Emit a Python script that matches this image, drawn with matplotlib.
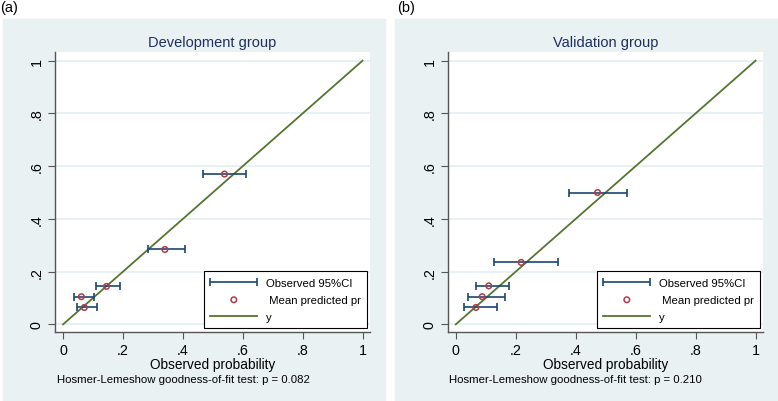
import numpy as np
import matplotlib
matplotlib.use("Agg")
import matplotlib.pyplot as plt
from matplotlib.patches import Rectangle
from matplotlib.container import ErrorbarContainer
from matplotlib.legend_handler import HandlerErrorbar

plt.rcParams["font.family"] = ["Liberation Sans", "DejaVu Sans"]

# observed probability (x), mean predicted probability (y), observed 95% CI
dev_obs = [0.539, 0.340, 0.145, 0.061, 0.071]
dev_pred = [0.570, 0.284, 0.144, 0.105, 0.064]
dev_lo = [0.466, 0.284, 0.110, 0.035, 0.045]
dev_hi = [0.612, 0.406, 0.191, 0.102, 0.113]

val_obs = [0.473, 0.218, 0.110, 0.088, 0.067]
val_pred = [0.500, 0.235, 0.146, 0.105, 0.064]
val_lo = [0.378, 0.129, 0.066, 0.042, 0.029]
val_hi = [0.572, 0.342, 0.177, 0.164, 0.138]

ticks = [0, 0.2, 0.4, 0.6, 0.8, 1]
tick_labels = ["0", ".2", ".4", ".6", ".8", "1"]

panels = [
    ("(a)", "Development group", dev_obs, dev_pred, dev_lo, dev_hi, "0.082"),
    ("(b)", "Validation group", val_obs, val_pred, val_lo, val_hi, "0.210"),
]

BG = "#e9f1f3"
NAVY = "#1a476f"
MAROON = "#b03a48"
GREEN = "#55752f"
TITLE = "#1f2f5e"

W, H = 778, 402
fig = plt.figure(figsize=(W / 100, H / 100), dpi=100)

bg_rects = [(3, 20, 385, 402), (395, 20, 778, 402)]
ax_boxes = [(55, 53, 370, 333), (447.7, 53, 763, 333)]
lab_pos = [(0, 8), (397, 8)]

for (tag, title, obs, pred, lo, hi, p), bgr, box, lp in zip(
    panels, bg_rects, ax_boxes, lab_pos
):
    x0, y0, x1, y1 = bgr
    fig.patches.append(
        Rectangle((x0 / W, 1 - y1 / H), (x1 - x0) / W, (y1 - y0) / H,
                  transform=fig.transFigure, color=BG, zorder=-10)
    )
    fig.text(lp[0] / W, 1 - lp[1] / H, tag, fontsize=10.5, va="center", ha="left")

    l, t, r, b = box
    ax = fig.add_axes([l / W, 1 - b / H, (r - l) / W, (b - t) / H])
    ax.set_facecolor("white")

    obs = np.array(obs)
    pred = np.array(pred)
    xerr = [obs - np.array(lo), np.array(hi) - obs]

    for yt in ticks:
        ax.axhline(yt, color="#e3eef1", lw=1.2, zorder=0)

    eb = ax.errorbar(obs, pred, xerr=xerr, fmt="none", ecolor=NAVY,
                     elinewidth=1.2, capsize=3, capthick=1.2,
                     label="Observed 95%CI", zorder=2)
    sc = ax.scatter(obs, pred, s=16, facecolors="none", edgecolors=MAROON,
                    linewidths=1.1, label=" Mean predicted pr", zorder=3)
    ln, = ax.plot([0, 1], [0, 1], color=GREEN, lw=1.3, label="y", zorder=1)

    ax.set_xlim(-0.027, 1.025)
    ax.set_ylim(-0.029, 1.033)
    ax.set_xticks(ticks)
    ax.set_xticklabels(tick_labels)
    ax.set_yticks(ticks)
    ax.set_yticklabels(tick_labels, rotation=90, va="center")
    ax.tick_params(axis="both", labelsize=10.3, length=5, width=0.8,
                   color="#555555", direction="out")
    ax.tick_params(axis="y", pad=3)
    ax.tick_params(axis="x", pad=3)
    for s in ["top", "right"]:
        ax.spines[s].set_visible(False)
    for s in ["left", "bottom"]:
        ax.spines[s].set_color("#555555")
        ax.spines[s].set_linewidth(1.0)

    ax.set_title(title, fontsize=10.5, color=TITLE, pad=4)
    ax.set_xlabel("Observed probability", fontsize=9.8, labelpad=0)
    ax.text(0.005, -0.168, "Hosmer-Lemeshow goodness-of-fit test: p = " + p,
            transform=ax.transAxes, fontsize=8.2, ha="left", va="center")

    leg = ax.legend([eb, sc, ln],
                    ["Observed 95%CI", " Mean predicted pr", "y"],
                    handler_map={ErrorbarContainer: HandlerErrorbar(xerr_size=2.05)},
                    loc="lower right", bbox_to_anchor=(0.99, 0.014),
                    fontsize=8.2, frameon=True, fancybox=False, framealpha=1,
                    edgecolor="black", handlelength=4.1, handletextpad=0.75,
                    labelspacing=0.62, borderpad=0.55, borderaxespad=0)
    leg.get_frame().set_linewidth(0.8)

fig.savefig("out.png", dpi=100)
